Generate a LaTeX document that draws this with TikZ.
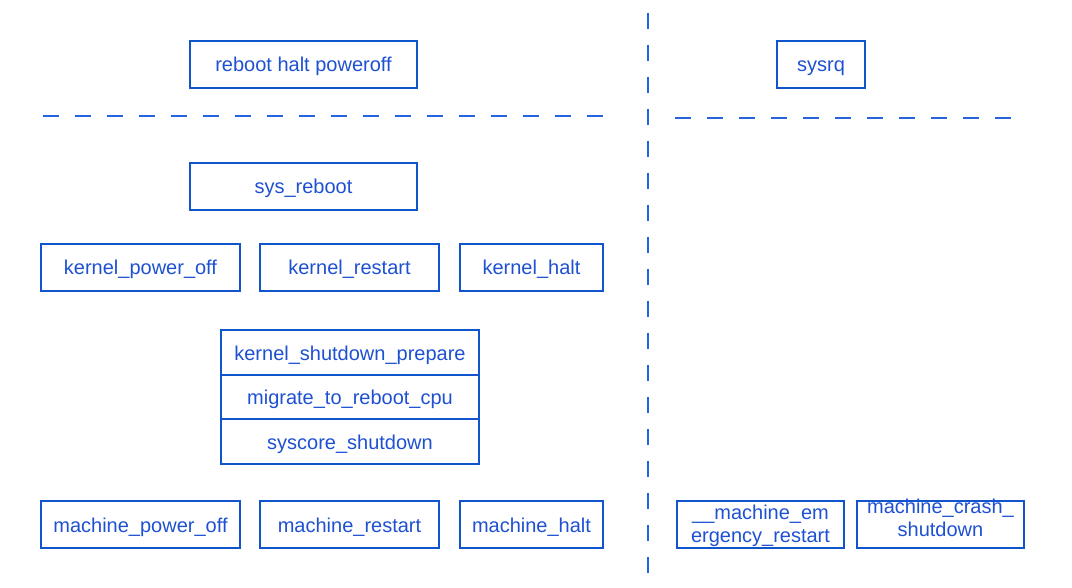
\documentclass[tikz,border=0pt]{standalone}
\usepackage{fontspec}
\setmainfont{Liberation Sans}
\definecolor{boxblue}{RGB}{17,85,204}
\definecolor{txtblue}{RGB}{30,80,210}
\definecolor{dashblue}{RGB}{35,100,220}
\begin{document}
\begin{tikzpicture}[x=1pt,y=-1pt,
  box/.style={draw=boxblue,line width=2pt,rectangle,inner sep=0pt,minimum height=47pt,
    text=txtblue,font=\fontsize{20}{23}\selectfont,align=center},
  one/.style={text height=16.5pt,text depth=1.5pt},
  txt/.style={inner sep=0pt,text=txtblue,font=\fontsize{20}{23}\selectfont,align=center},
  sep/.style={draw=dashblue,line width=2pt,dash pattern=on 16pt off 16pt}]
\useasboundingbox (0,0) rectangle (1072,588);
% separators
\coordinate (vt) at (648,13);
\coordinate (vb) at (648,574);
\coordinate (hl1) at (43,116);
\coordinate (hl2) at (605,116);
\coordinate (hr1) at (675,118);
\coordinate (hr2) at (1012,118);
\draw[sep] (vt) -- (vb);
\draw[sep] (hl1) -- (hl2);
\draw[sep] (hr1) -- (hr2);
% top
\node[box,one,minimum width=227pt] (rhp) at (303.5,64.5) {reboot halt poweroff};
\node[box,one,minimum width=88pt] (sysrq) at (821,64.5) {sysrq};
\node[box,one,minimum width=227pt] (sysreboot) at (303.5,186.5) {sys\_reboot};
% kernel row
\node[box,one,minimum width=199pt] (kpo) at (140.5,267.5) {kernel\_power\_off};
\node[box,one,minimum width=179pt] (kr) at (349.5,267.5) {kernel\_restart};
\node[box,one,minimum width=143pt] (kh) at (531.5,267.5) {kernel\_halt};
% stacked
\node[box,one,minimum width=258pt,minimum height=45pt] (ksp) at (350,352.5) {kernel\_shutdown\_prepare};
\node[box,one,minimum width=258pt,minimum height=44pt] (mrc) at (350,397) {migrate\_to\_reboot\_cpu};
\node[box,one,minimum width=258pt,minimum height=45pt] (scs) at (350,441.5) {syscore\_shutdown};
% machine row
\node[box,one,minimum width=199pt] (mpo) at (140.5,524.5) {machine\_power\_off};
\node[box,one,minimum width=179pt] (mr) at (349.5,524.5) {machine\_restart};
\node[box,one,minimum width=143pt] (mh) at (531.5,524.5) {machine\_halt};
\node[box,minimum width=167pt] (mer) at (760.5,524.5) {};
\node[txt] (mert) at (760.5,526) {\_\_machine\_em\\ergency\_restart};
\node[box,minimum width=167pt] (mcs) at (940.5,524.5) {};
\node[txt] (mcst) at (940.5,518) {machine\_crash\_\\shutdown};
\end{tikzpicture}
\end{document}
